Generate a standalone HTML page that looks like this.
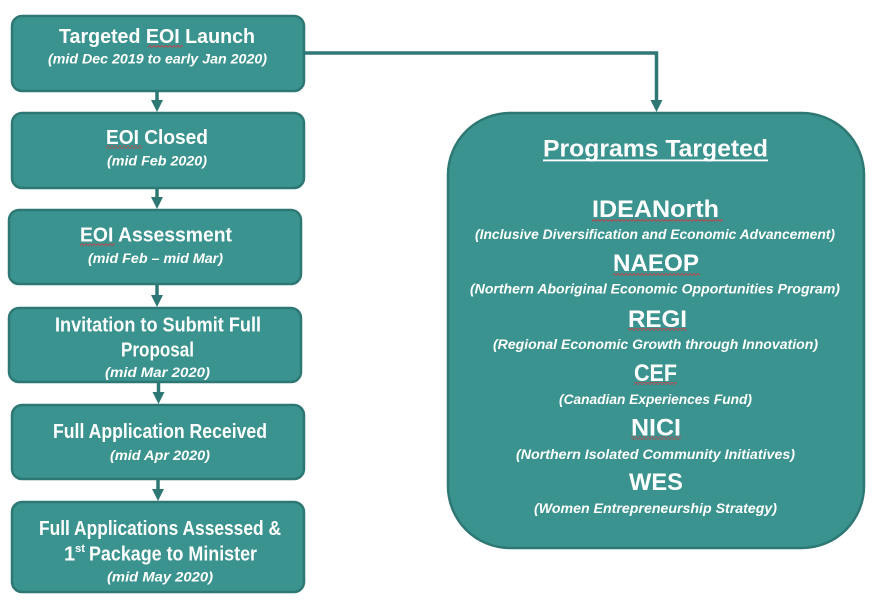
<!DOCTYPE html>
<html>
<head>
<meta charset="utf-8">
<style>
  html,body{margin:0;padding:0;background:#fff;}
  svg{display:block;}
  text{font-family:"Liberation Sans",Arial,sans-serif;font-weight:bold;fill:#fff;}
  .t{font-size:20px;}
  .s{font-size:13.5px;font-style:italic;}
  .p{font-size:24px;}
  .r{font-size:13.5px;font-style:italic;}
</style>
</head>
<body>
<svg width="879" height="613" viewBox="0 0 879 613" xmlns="http://www.w3.org/2000/svg">
  <defs>
    <pattern id="sq" x="0" y="0" width="4" height="3" patternUnits="userSpaceOnUse">
      <path d="M0,2.5 L2,0.5 L4,2.5" fill="none" stroke="#d9363e" stroke-width="0.8"/>
    </pattern>
  </defs>

  <!-- connectors -->
  <g stroke="#2d7874" stroke-width="3.5" fill="none">
    <polyline points="304,53 656.5,53 656.5,102"/>
    <line x1="157" y1="91" x2="157" y2="102"/>
    <line x1="157" y1="188" x2="157" y2="199"/>
    <line x1="157" y1="284" x2="157" y2="297"/>
    <line x1="158.5" y1="382" x2="158.5" y2="394"/>
    <line x1="158" y1="479" x2="158" y2="491"/>
  </g>
  <g fill="#2d7874">
    <polygon points="650.5,100 662.5,100 656.5,112"/>
    <polygon points="151,100 163,100 157,112"/>
    <polygon points="151,197 163,197 157,209"/>
    <polygon points="151,295 163,295 157,307"/>
    <polygon points="152.5,392 164.5,392 158.5,404"/>
    <polygon points="152,489 164,489 158,501"/>
  </g>

  <!-- left boxes -->
  <g fill="#3a938e" stroke="#2d7874" stroke-width="2.5">
    <rect x="12" y="16" width="292" height="75" rx="10"/>
    <rect x="12" y="113" width="292" height="75" rx="10"/>
    <rect x="9" y="210" width="292" height="74" rx="10"/>
    <rect x="9" y="308" width="292" height="74" rx="10"/>
    <rect x="12" y="405" width="292" height="74" rx="10"/>
    <rect x="12" y="502" width="292" height="90" rx="10"/>
    <rect x="448" y="113" width="416" height="435" rx="62"/>
  </g>

  <!-- squiggles -->
  <g fill="url(#sq)">
    <rect x="148" y="44.5" width="35" height="3"/>
    <rect x="106" y="145.5" width="36" height="3"/>
    <rect x="80" y="243.5" width="35" height="3"/>
    <rect x="592" y="218.5" width="131" height="3"/>
    <rect x="613" y="273" width="87" height="3"/>
    <rect x="628" y="328" width="59" height="3"/>
    <rect x="634" y="382" width="43" height="3"/>
    <rect x="631" y="436.5" width="50" height="3"/>
  </g>

  <!-- left box text -->
  <text class="t" x="59" y="43" textLength="196" lengthAdjust="spacingAndGlyphs">Targeted EOI Launch</text>
  <text class="s" x="48" y="63.5" textLength="219" lengthAdjust="spacingAndGlyphs">(mid Dec 2019 to early Jan 2020)</text>

  <text class="t" x="106" y="144" textLength="102" lengthAdjust="spacingAndGlyphs">EOI Closed</text>
  <text class="s" x="107" y="165.5" textLength="100" lengthAdjust="spacingAndGlyphs">(mid Feb 2020)</text>

  <text class="t" x="80" y="241.5" textLength="152" lengthAdjust="spacingAndGlyphs">EOI Assessment</text>
  <text class="s" x="88" y="263" textLength="135" lengthAdjust="spacingAndGlyphs">(mid Feb – mid Mar)</text>

  <text class="t" x="55" y="331.5" font-size="19" textLength="206" lengthAdjust="spacingAndGlyphs">Invitation to Submit Full</text>
  <text class="t" x="121" y="356.5" font-size="19" textLength="73" lengthAdjust="spacingAndGlyphs">Proposal</text>
  <text class="s" x="105" y="377" textLength="105" lengthAdjust="spacingAndGlyphs">(mid Mar 2020)</text>

  <text class="t" x="53" y="438" font-size="19" textLength="214" lengthAdjust="spacingAndGlyphs">Full Application Received</text>
  <text class="s" x="110" y="460" textLength="100" lengthAdjust="spacingAndGlyphs">(mid Apr 2020)</text>

  <text class="t" x="39" y="535" font-size="19" textLength="242" lengthAdjust="spacingAndGlyphs">Full Applications Assessed &amp;</text>
  <text class="t" x="64" y="560.5" font-size="19">1</text>
  <text x="75" y="552" font-size="11" textLength="10" lengthAdjust="spacingAndGlyphs">st</text>
  <text class="t" x="89" y="560.5" font-size="19" textLength="168" lengthAdjust="spacingAndGlyphs">Package to Minister</text>
  <text class="s" x="107" y="581.5" textLength="106" lengthAdjust="spacingAndGlyphs">(mid May 2020)</text>

  <!-- right box text -->
  <text class="p" x="543" y="156.5" textLength="225" lengthAdjust="spacingAndGlyphs">Programs Targeted</text>
  <rect x="543" y="159.5" width="225" height="1.8" fill="#fff"/>

  <text class="p" x="592" y="217" font-size="25" textLength="127" lengthAdjust="spacingAndGlyphs">IDEANorth</text>
  <text class="r" x="475" y="239" textLength="360" lengthAdjust="spacingAndGlyphs">(Inclusive Diversification and Economic Advancement)</text>

  <text class="p" x="613" y="271" textLength="86" lengthAdjust="spacingAndGlyphs">NAEOP</text>
  <text class="r" x="470" y="293.5" textLength="370" lengthAdjust="spacingAndGlyphs">(Northern Aboriginal Economic Opportunities Program)</text>

  <text class="p" x="628" y="327" textLength="59" lengthAdjust="spacingAndGlyphs">REGI</text>
  <text class="r" x="493" y="349" textLength="325" lengthAdjust="spacingAndGlyphs">(Regional Economic Growth through Innovation)</text>

  <text class="p" x="634" y="381" textLength="43" lengthAdjust="spacingAndGlyphs">CEF</text>
  <text class="r" x="559" y="404" textLength="193" lengthAdjust="spacingAndGlyphs">(Canadian Experiences Fund)</text>

  <text class="p" x="631" y="435.5" textLength="50" lengthAdjust="spacingAndGlyphs">NICI</text>
  <text class="r" x="516" y="459" textLength="279" lengthAdjust="spacingAndGlyphs">(Northern Isolated Community Initiatives)</text>

  <text class="p" x="629" y="490" textLength="54" lengthAdjust="spacingAndGlyphs">WES</text>
  <text class="r" x="534" y="513" textLength="243" lengthAdjust="spacingAndGlyphs">(Women Entrepreneurship Strategy)</text>
</svg>
</body>
</html>
